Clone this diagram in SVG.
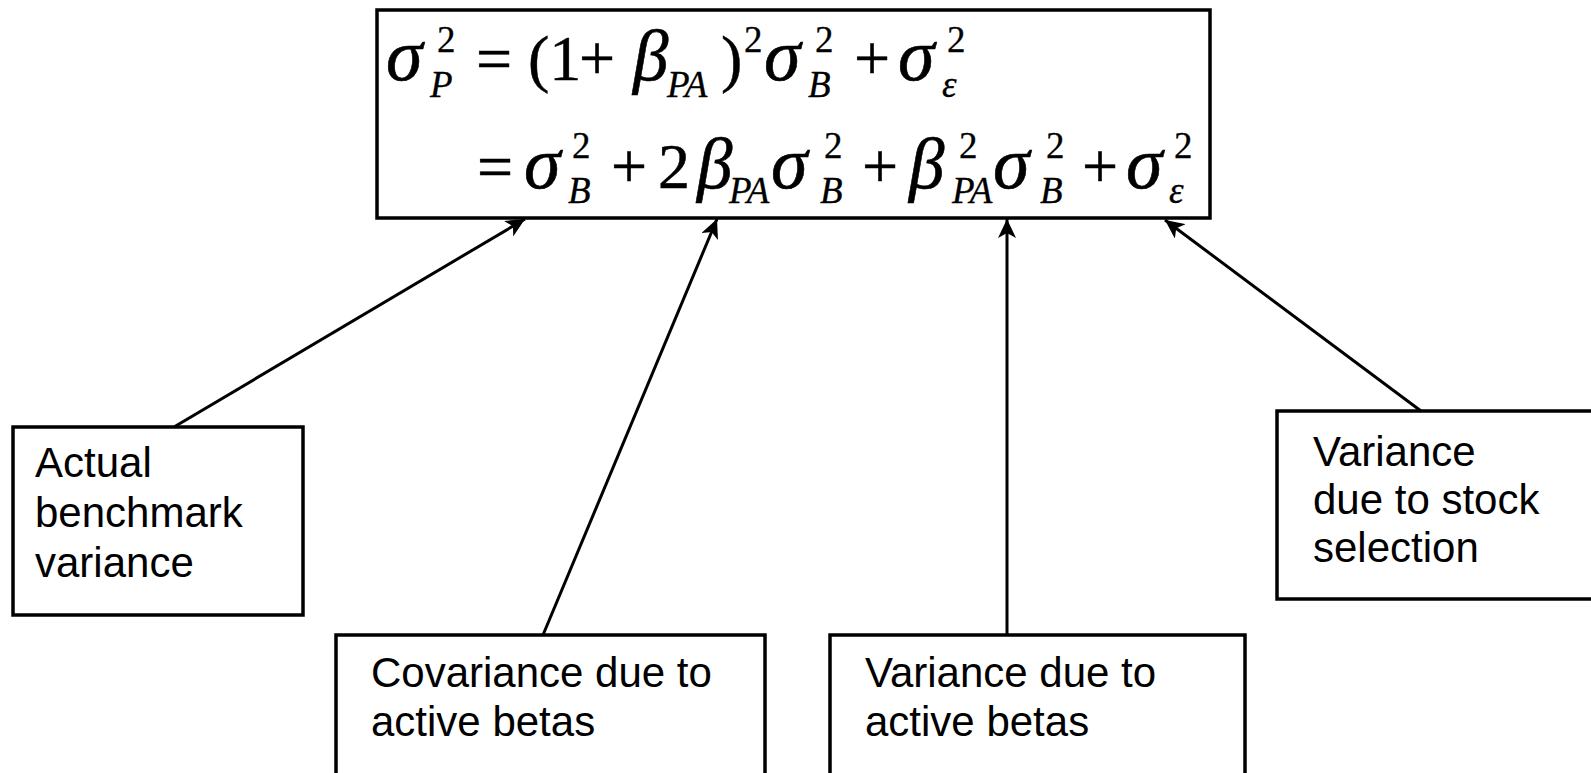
<svg xmlns="http://www.w3.org/2000/svg" width="1591" height="773" viewBox="0 0 1591 773">
<style>
.box{fill:#fff;stroke:#000;stroke-width:3.5}
.lbl{font-family:"Liberation Sans",Arial,sans-serif;font-size:42px;fill:#000}
.m{font-family:"Liberation Serif","Times New Roman",serif;font-size:64px;fill:#000;stroke:#000;stroke-width:0.5}
.g{font-family:"Liberation Serif","Times New Roman",serif;font-size:74px;font-style:italic;fill:#000;stroke:#000;stroke-width:0.6}
.b{font-family:"Liberation Serif","Times New Roman",serif;font-size:71px;font-style:italic;fill:#000;stroke:#000;stroke-width:0.6}
.s{font-family:"Liberation Serif","Times New Roman",serif;font-size:37px;fill:#000;stroke:#000;stroke-width:0.3}
.i{font-style:italic}
.conn{stroke:#000;stroke-width:3;fill:none;marker-end:url(#ah)}
</style>
<defs>
<marker id="ah" markerUnits="userSpaceOnUse" markerWidth="20" markerHeight="18" refX="19" refY="9" orient="auto">
<path d="M19,9 L0,0 L5,9 L0,18 z" fill="#000"/>
</marker>
</defs>
<rect width="1591" height="773" fill="#fff"/>
<g id="formula">
<rect class="box" x="377" y="10" width="833" height="208"/>
<text class="g" x="386" y="80">σ</text>
<text class="s" x="437" y="52">2</text>
<text class="s i" x="430" y="97">P</text>
<text class="m" x="476" y="80">=</text>
<text class="m" x="528" y="80">(1</text>
<text class="m" x="579" y="80">+</text>
<text class="b" x="633" y="80">β</text>
<text class="s i" x="667" y="97">PA</text>
<text class="m" x="721" y="80">)</text>
<text class="s" x="744" y="52">2</text>
<text class="g" x="764" y="80">σ</text>
<text class="s" x="815" y="52">2</text>
<text class="s i" x="808" y="97">B</text>
<text class="m" x="854" y="80">+</text>
<text class="g" x="898" y="80">σ</text>
<text class="s" x="947" y="52">2</text>
<text class="s i" x="942" y="97">ε</text>

<text class="m" x="477" y="188">=</text>
<text class="g" x="524" y="188">σ</text>
<text class="s" x="572" y="158">2</text>
<text class="s i" x="568" y="203">B</text>
<text class="m" x="611" y="188">+</text>
<text class="m" x="658" y="188">2</text>
<text class="b" x="697" y="188">β</text>
<text class="s i" x="729" y="203">PA</text>
<text class="g" x="771" y="188">σ</text>
<text class="s" x="824" y="158">2</text>
<text class="s i" x="820" y="203">B</text>
<text class="m" x="862" y="188">+</text>
<text class="b" x="909" y="188">β</text>
<text class="s" x="959" y="158">2</text>
<text class="s i" x="952" y="203">PA</text>
<text class="g" x="993" y="188">σ</text>
<text class="s" x="1046" y="158">2</text>
<text class="s i" x="1040" y="203">B</text>
<text class="m" x="1082" y="188">+</text>
<text class="g" x="1126" y="188">σ</text>
<text class="s" x="1174" y="158">2</text>
<text class="s i" x="1169" y="203">ε</text>
</g>
<g id="node-actual">
<rect class="box" x="13" y="427" width="290" height="188"/>
<text class="lbl" x="35" y="477">Actual</text>
<text class="lbl" x="35" y="527">benchmark</text>
<text class="lbl" x="35" y="577">variance</text>
</g>
<g id="node-covariance">
<rect class="box" x="336" y="635" width="429" height="150"/>
<text class="lbl" x="371" y="687">Covariance due to</text>
<text class="lbl" x="371" y="736">active betas</text>
</g>
<g id="node-variance">
<rect class="box" x="830" y="635" width="415" height="150"/>
<text class="lbl" x="865" y="687">Variance due to</text>
<text class="lbl" x="865" y="736">active betas</text>
</g>
<g id="node-stock">
<rect class="box" x="1277" y="411" width="330" height="188"/>
<text class="lbl" x="1313" y="466">Variance</text>
<text class="lbl" x="1313" y="514">due to stock</text>
<text class="lbl" x="1313" y="562">selection</text>
</g>
<g id="connectors">
<line class="conn" x1="174" y1="427" x2="525" y2="219"/>
<line class="conn" x1="543" y1="635" x2="717" y2="219"/>
<line class="conn" x1="1007" y1="635" x2="1007" y2="219"/>
<line class="conn" x1="1421" y1="411" x2="1165" y2="220"/>
</g>
</svg>
